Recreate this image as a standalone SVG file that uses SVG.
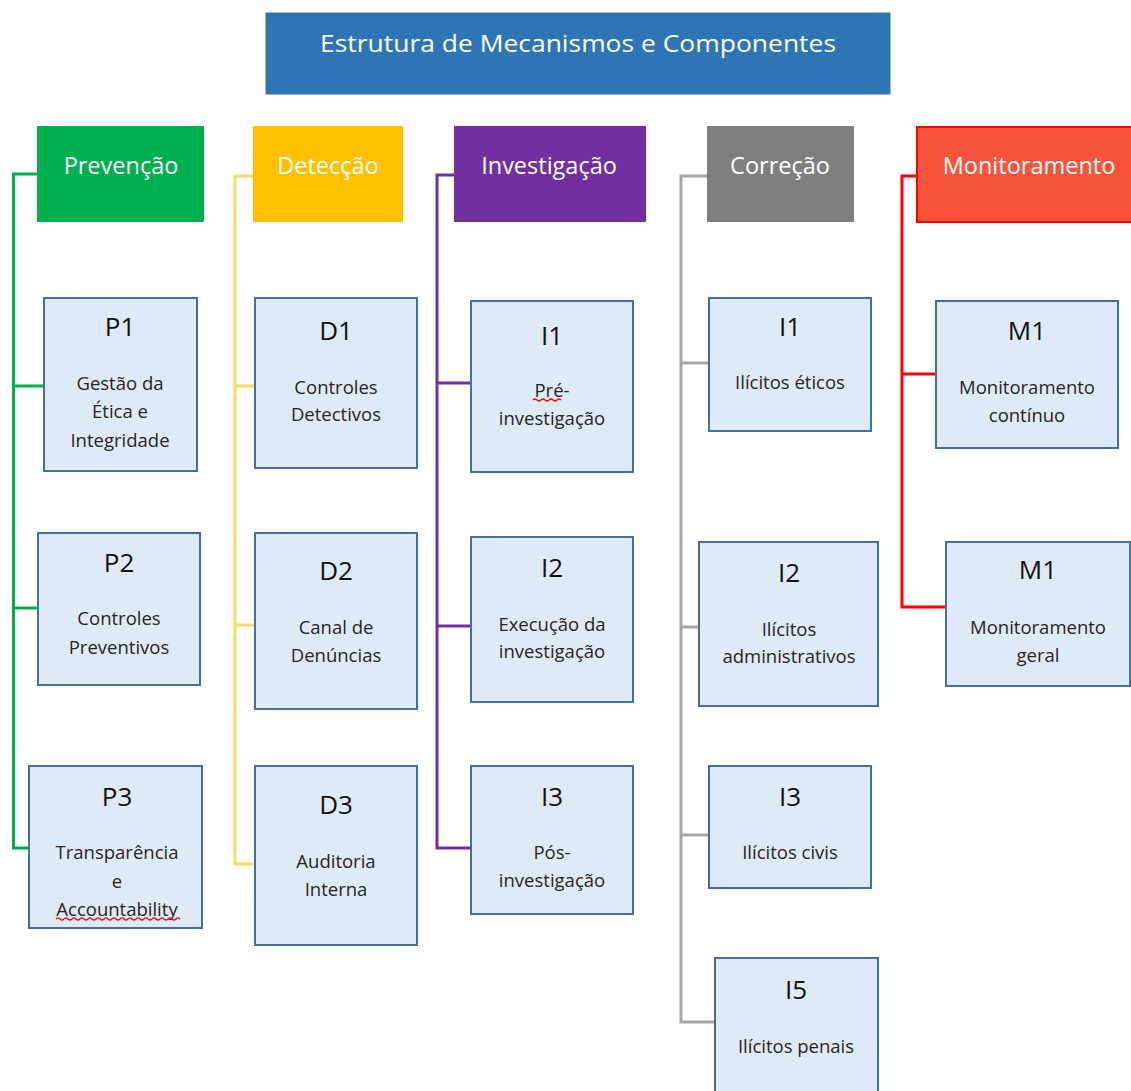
<svg xmlns="http://www.w3.org/2000/svg" width="1131" height="1091" viewBox="0 0 1131 1091">
<style>
  .hdr { font-family: "Open Sans", "Liberation Sans", sans-serif; font-size: 23.5px; fill: #ffffff; text-anchor: middle; }
  .box { fill: #DEEAF6; stroke: #41719C; stroke-width: 2; }
  .ttl { font-family: "Open Sans", "Liberation Sans", sans-serif; font-size: 26px; fill: #111111; text-anchor: middle; }
  .txt { font-family: "Open Sans", "Liberation Sans", sans-serif; font-size: 18.5px; fill: #262626; text-anchor: middle; }
  .conn { fill: none; stroke-width: 3; stroke-linejoin: miter; }
  .squig { fill: none; stroke: #FF0000; stroke-width: 1.2; }
</style>
<rect width="1131" height="1091" fill="#ffffff"/>

<g id="title">
  <rect x="266" y="13" width="624" height="81" fill="#2E75B6" stroke="#41719C" stroke-width="1"/>
  <text x="578" y="52" font-family="'Open Sans', 'Liberation Sans', sans-serif" font-size="24" fill="#ffffff" text-anchor="middle" textLength="516" lengthAdjust="spacingAndGlyphs">Estrutura de Mecanismos e Componentes</text>
</g>

<g id="connectors">
  <path class="conn" stroke="#00B050" d="M37,174 H13.5 V848 H29 M13.5,386 H44 M13.5,608 H38"/>
  <path class="conn" stroke="#FFD966" d="M253,176 H235 V864 H255 M235,386 H255 M235,625 H255"/>
  <path class="conn" stroke="#7030A0" d="M454,175 H437 V848 H471 M437,383 H471 M437,626 H471"/>
  <path class="conn" stroke="#A6A6A6" d="M707,176 H681 V1022 H715 M681,363 H709 M681,627 H699 M681,835 H709"/>
  <path class="conn" stroke="#FF0000" d="M917,176 H902 V607 H946 M902,374 H936"/>
</g>

<g id="hdr-prevencao">
  <rect x="37" y="126" width="167" height="96" fill="#00B050"/>
  <text class="hdr" x="121" y="174">Prevenção</text>
</g>
<g id="hdr-deteccao">
  <rect x="253" y="126" width="150" height="96" fill="#FFC000"/>
  <text class="hdr" x="328" y="174">Detecção</text>
</g>
<g id="hdr-investigacao">
  <rect x="454" y="126" width="192" height="96" fill="#7030A0"/>
  <text class="hdr" x="549" y="174">Investigação</text>
</g>
<g id="hdr-correcao">
  <rect x="707" y="126" width="147" height="96" fill="#7F7F7F"/>
  <text class="hdr" x="780" y="174">Correção</text>
</g>
<g id="hdr-monitoramento">
  <rect x="917" y="127" width="225" height="95" fill="#F8533B" stroke="#FF0000" stroke-width="2"/>
  <text class="hdr" x="1029" y="174">Monitoramento</text>
</g>

<g id="p1">
  <rect class="box" x="44" y="298" width="153" height="173"/>
  <text class="ttl" x="120" y="336">P1</text>
  <text class="txt" x="120" y="390">Gestão da</text>
  <text class="txt" x="120" y="418">Ética e</text>
  <text class="txt" x="120" y="447">Integridade</text>
</g>
<g id="p2">
  <rect class="box" x="38" y="533" width="162" height="152"/>
  <text class="ttl" x="119" y="572">P2</text>
  <text class="txt" x="119" y="625">Controles</text>
  <text class="txt" x="119" y="654">Preventivos</text>
</g>
<g id="p3">
  <rect class="box" x="29" y="766" width="173" height="162"/>
  <text class="ttl" x="117" y="806">P3</text>
  <text class="txt" x="117" y="859">Transparência</text>
  <text class="txt" x="117" y="888">e</text>
  <text class="txt" x="117" y="916">Accountability</text>
  <path class="squig" d="M56,919 q2,-2 4,0 t4,0 t4,0 t4,0 t4,0 t4,0 t4,0 t4,0 t4,0 t4,0 t4,0 t4,0 t4,0 t4,0 t4,0 t4,0 t4,0 t4,0 t4,0 t4,0 t4,0 t4,0 t4,0 t4,0 t4,0 t4,0 t4,0 t4,0 t4,0 t4,0 t4,0"/>
</g>

<g id="d1">
  <rect class="box" x="255" y="298" width="162" height="170"/>
  <text class="ttl" x="336" y="340">D1</text>
  <text class="txt" x="336" y="394">Controles</text>
  <text class="txt" x="336" y="421">Detectivos</text>
</g>
<g id="d2">
  <rect class="box" x="255" y="533" width="162" height="176"/>
  <text class="ttl" x="336" y="580">D2</text>
  <text class="txt" x="336" y="634">Canal de</text>
  <text class="txt" x="336" y="662">Denúncias</text>
</g>
<g id="d3">
  <rect class="box" x="255" y="766" width="162" height="179"/>
  <text class="ttl" x="336" y="814">D3</text>
  <text class="txt" x="336" y="868">Auditoria</text>
  <text class="txt" x="336" y="896">Interna</text>
</g>

<g id="i1">
  <rect class="box" x="471" y="301" width="162" height="171"/>
  <text class="ttl" x="552" y="345">I1</text>
  <text class="txt" x="552" y="397">Pré-</text>
  <text class="txt" x="552" y="425">investigação</text>
  <path class="squig" d="M533,400 q2,-2 4,0 t4,0 t4,0 t4,0 t4,0 t4,0 t4,0"/>
</g>
<g id="i2">
  <rect class="box" x="471" y="537" width="162" height="165"/>
  <text class="ttl" x="552" y="577">I2</text>
  <text class="txt" x="552" y="631">Execução da</text>
  <text class="txt" x="552" y="658">investigação</text>
</g>
<g id="i3">
  <rect class="box" x="471" y="766" width="162" height="148"/>
  <text class="ttl" x="552" y="806">I3</text>
  <text class="txt" x="552" y="859">Pós-</text>
  <text class="txt" x="552" y="887">investigação</text>
</g>

<g id="c-i1">
  <rect class="box" x="709" y="298" width="162" height="133"/>
  <text class="ttl" x="790" y="336">I1</text>
  <text class="txt" x="790" y="389">Ilícitos éticos</text>
</g>
<g id="c-i2">
  <rect class="box" x="699" y="542" width="179" height="164"/>
  <text class="ttl" x="789" y="582">I2</text>
  <text class="txt" x="789" y="636">Ilícitos</text>
  <text class="txt" x="789" y="663">administrativos</text>
</g>
<g id="c-i3">
  <rect class="box" x="709" y="766" width="162" height="122"/>
  <text class="ttl" x="790" y="806">I3</text>
  <text class="txt" x="790" y="859">Ilícitos civis</text>
</g>
<g id="c-i5">
  <rect class="box" x="715" y="958" width="163" height="145"/>
  <text class="ttl" x="796" y="999">I5</text>
  <text class="txt" x="796" y="1053">Ilícitos penais</text>
</g>

<g id="m1">
  <rect class="box" x="936" y="301" width="182" height="147"/>
  <text class="ttl" x="1027" y="340">M1</text>
  <text class="txt" x="1027" y="394">Monitoramento</text>
  <text class="txt" x="1027" y="422">contínuo</text>
</g>
<g id="m2">
  <rect class="box" x="946" y="542" width="184" height="144"/>
  <text class="ttl" x="1038" y="579">M1</text>
  <text class="txt" x="1038" y="634">Monitoramento</text>
  <text class="txt" x="1038" y="662">geral</text>
</g>
</svg>
